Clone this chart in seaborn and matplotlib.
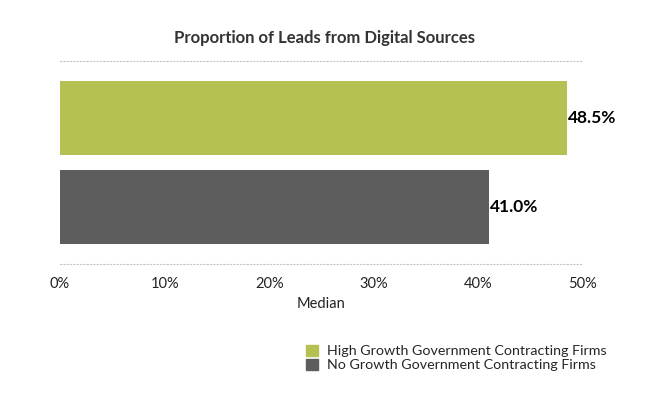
import matplotlib
matplotlib.use("Agg")
import matplotlib.pyplot as plt
import matplotlib.patches as mpatches
import seaborn as sns
import pandas as pd

groups = ["High Growth Government Contracting Firms", "No Growth Government Contracting Firms"]
values = [48.5, 41.0]
colors = ["#b5c253", "#5d5d5d"]
ticks = [0, 10, 20, 30, 40, 50]

df = pd.DataFrame({"group": groups, "value": values})

sns.set_style("white")
plt.rcParams["font.family"] = ["Lato", "DejaVu Sans"]

fig = plt.figure(figsize=(6.5, 3.95), dpi=100)
ax = fig.add_axes([0.0923, 0.3316, 0.8046, 0.514])

sns.barplot(data=df, y="group", x="value", hue="group", palette=colors,
            orient="h", width=0.83, legend=False, ax=ax, saturation=1,
            linewidth=0)

for i, v in enumerate(values):
    ax.text(v + 0.1, i, f"{v:.1f}%", va="center", ha="left",
            fontsize=12.5, fontweight="bold", color="black")

ax.set_xlim(0, 50)
ax.set_ylim(1.64, -0.64)
ax.set_xticks(ticks)
ax.set_xticklabels([f"{t}%" for t in ticks], fontsize=10.5, color="#222222")
ax.set_yticks([])
ax.set_ylabel("")
ax.set_xlabel("Median", fontsize=10.5, color="#222222", labelpad=5)
ax.tick_params(axis="x", length=0, pad=9)

for side in ["left", "right"]:
    ax.spines[side].set_visible(False)
for side in ["top", "bottom"]:
    ax.spines[side].set_linestyle((0, (1, 2)))
    ax.spines[side].set_color("#c4c4c4")
    ax.spines[side].set_linewidth(0.8)

fig.text(0.5, 0.905, "Proportion of Leads from Digital Sources",
         ha="center", va="center", fontsize=12, fontweight="bold", color="#333333")

handles = [mpatches.Patch(color=c, label=g) for g, c in zip(groups, colors)]
fig.legend(handles=handles, loc="upper left", bbox_to_anchor=(0.462, 0.142),
           frameon=False, fontsize=10.3, handlelength=0.85, handleheight=0.85,
           handletextpad=0.6, labelspacing=0.1, borderaxespad=0)

fig.savefig("out.png", dpi=100)
